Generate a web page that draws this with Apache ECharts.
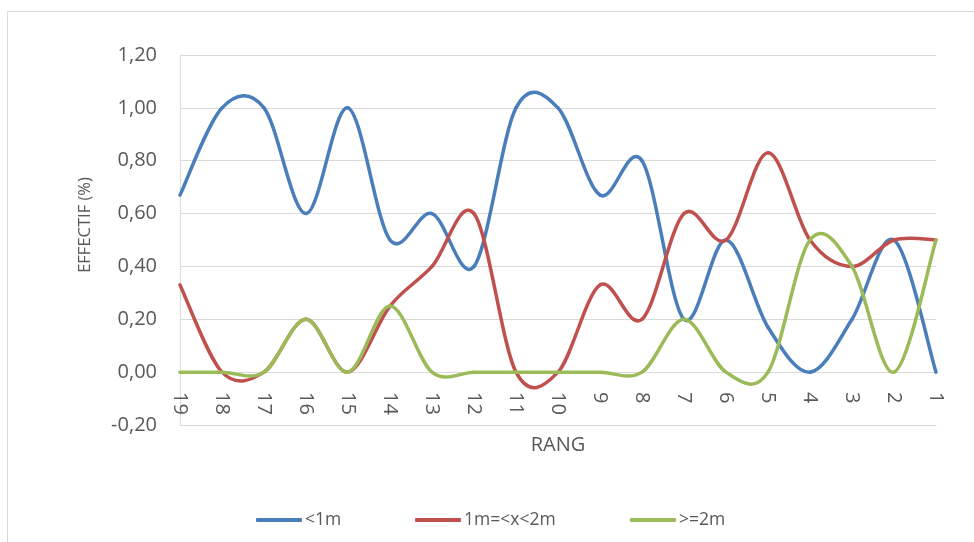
<!DOCTYPE html>
<html>
<head>
<meta charset="utf-8">
<script src="https://cdn.jsdelivr.net/npm/echarts@6/dist/echarts.min.js"></script>
<style>
  html, body { margin: 0; padding: 0; background: #fff; }
  #frame { position: absolute; left: 7px; top: 11px; width: 975px; height: 540px; border: 1px solid #d9d9d9; box-sizing: border-box; }
  #chart { width: 974px; height: 542px; }
</style>
</head>
<body>
<div id="frame"></div>
<div id="chart"></div>
<script>
// Ranks, left to right
const ranks = ['19', '18', '17', '16', '15', '14', '13', '12', '11', '10', '9', '8', '7', '6', '5', '4', '3', '2', '1'];

const under1m = [0.67, 1.0, 1.0, 0.6, 1.0, 0.5, 0.6, 0.4, 1.0, 1.0, 0.67, 0.8, 0.2, 0.5, 0.17, 0, 0.2, 0.5, 0];
const from1to2m = [0.33, 0, 0, 0.2, 0, 0.25, 0.4, 0.6, 0, 0, 0.33, 0.2, 0.6, 0.5, 0.83, 0.5, 0.4, 0.5, 0.5];
const over2m = [0, 0, 0, 0.2, 0, 0.25, 0, 0, 0, 0, 0, 0, 0.2, 0, 0, 0.5, 0.4, 0, 0.5];

const seriesNames = ['<1m', '1m=<x<2m', '>=2m'];
const colors = ['#4a7ebb', '#c0504d', '#9bbb59'];

const chart = echarts.init(document.getElementById('chart'));
const font = "'Open Sans', 'Liberation Sans', sans-serif";

// Excel-style smoothing (Catmull-Rom), one bezier segment per data item,
// all points go through api.coord so the axes do the scaling
function smoothSeries(name, values, color) {
    const last = values.length - 1;
    const clamp = k => Math.max(0, Math.min(last, k));
    return {
        name: name,
        type: 'custom',
        data: values.map((v, i) => [i, v]),
        encode: { x: 0, y: 1 },
        itemStyle: { color: color },
        renderItem: (params, api) => {
            const i = params.dataIndex;
            if (i >= last) return null;
            const p = k => api.coord([clamp(k), values[clamp(k)]]);
            const p0 = p(i - 1), p1 = p(i), p2 = p(i + 1), p3 = p(i + 2);
            const t = 1 / 6;
            return {
                type: 'bezierCurve',
                shape: {
                    x1: p1[0], y1: p1[1], x2: p2[0], y2: p2[1],
                    cpx1: p1[0] + (p2[0] - p0[0]) * t, cpy1: p1[1] + (p2[1] - p0[1]) * t,
                    cpx2: p2[0] - (p3[0] - p1[0]) * t, cpy2: p2[1] - (p3[1] - p1[1]) * t
                },
                style: { stroke: color, lineWidth: 3.5, fill: null, lineCap: 'round' }
            };
        }
    };
}

function legendItem(name, left) {
    return {
        left: left,
        bottom: 8,
        itemWidth: 46,
        itemHeight: 4,
        itemGap: 0,
        icon: 'roundRect',
        textStyle: { color: '#595959', fontSize: 17.5, fontFamily: font, padding: [0, 0, 0, -2] },
        data: [name]
    };
}

chart.setOption({
    animation: false,
    color: colors,
    textStyle: { fontFamily: font },
    grid: { left: 180, right: 38, top: 55, bottom: 117 },
    legend: [
        legendItem(seriesNames[0], 251),
        legendItem(seriesNames[1], 410),
        legendItem(seriesNames[2], 625)
    ],
    xAxis: {
        type: 'category',
        data: ranks,
        boundaryGap: false,
        name: 'RANG',
        nameLocation: 'middle',
        nameGap: 10,
        nameTextStyle: { color: '#595959', fontSize: 20 },
        axisLine: { onZero: false, lineStyle: { color: '#d9d9d9', width: 1 } },
        axisTick: { show: false },
        axisLabel: { rotate: -90, color: '#595959', fontSize: 20, margin: -33 },
        splitLine: { show: false }
    },
    yAxis: {
        type: 'value',
        min: -0.2,
        max: 1.2,
        interval: 0.2,
        name: 'EFFECTIF (%)',
        nameLocation: 'middle',
        nameGap: 86,
        nameTextStyle: { color: '#595959', fontSize: 16.5, padding: [0, 0, 0, 30] },
        axisLine: { show: true, lineStyle: { color: '#d9d9d9' } },
        axisTick: { show: false },
        axisLabel: {
            color: '#595959',
            fontSize: 20,
            margin: 23,
            formatter: v => v.toFixed(2).replace('.', ',')
        },
        splitLine: { lineStyle: { color: '#d9d9d9', width: 1 } }
    },
    series: [
        smoothSeries(seriesNames[0], under1m, colors[0]),
        smoothSeries(seriesNames[1], from1to2m, colors[1]),
        smoothSeries(seriesNames[2], over2m, colors[2])
    ]
});
</script>
</body>
</html>
